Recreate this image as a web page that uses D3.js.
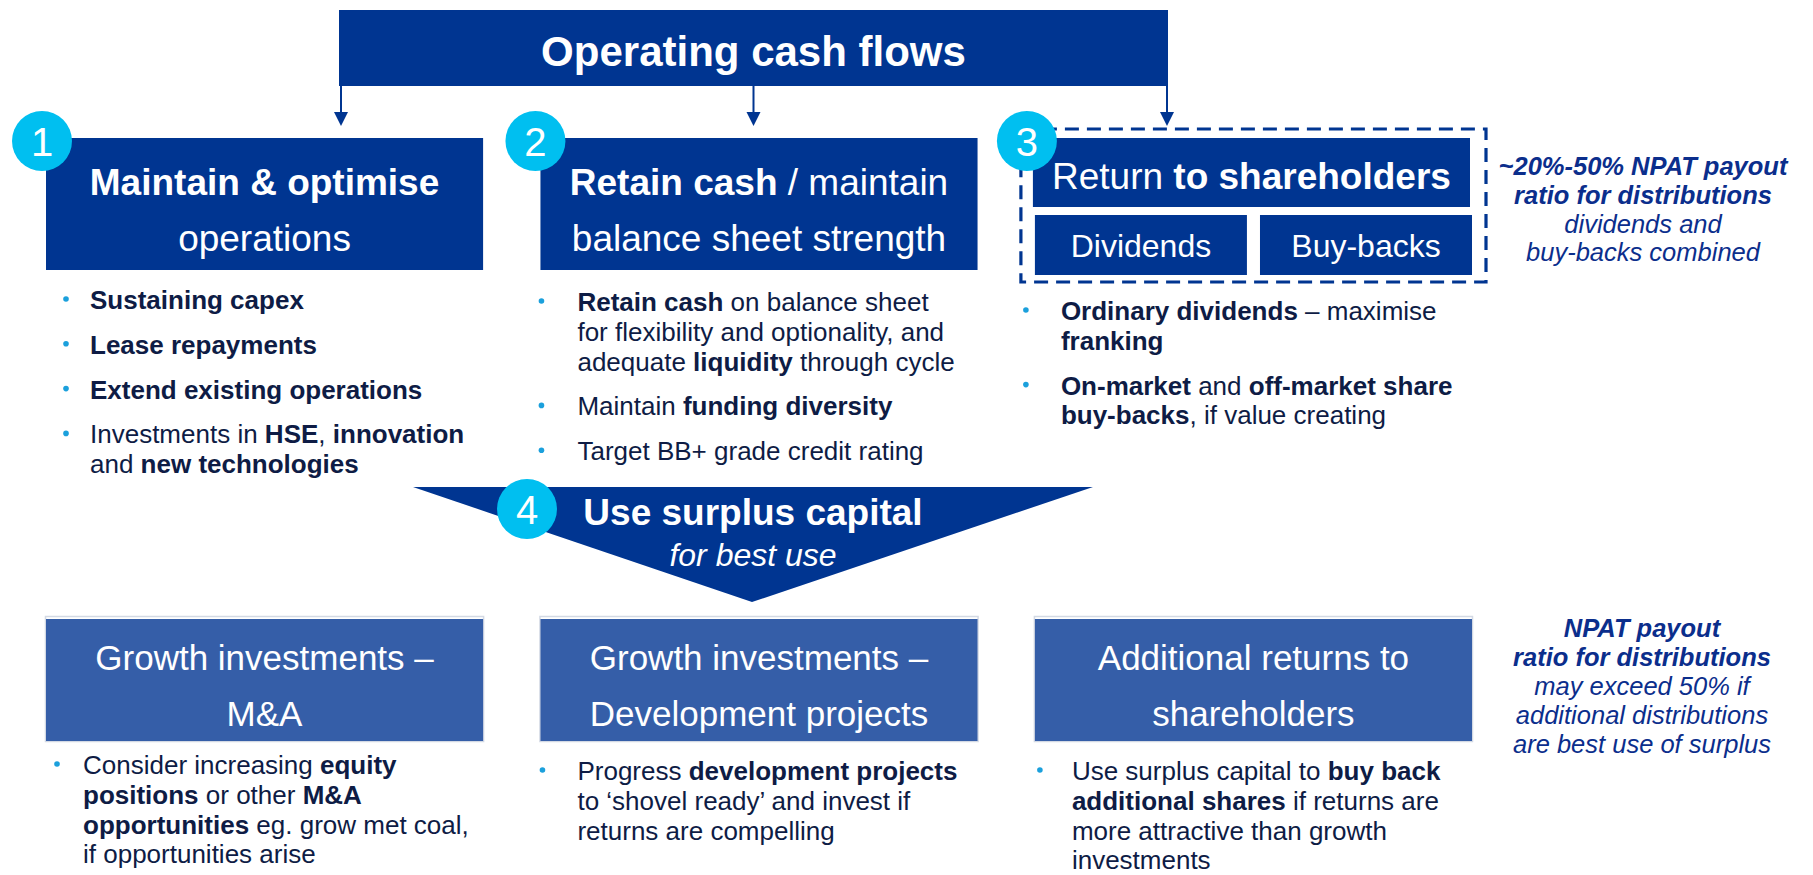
<!DOCTYPE html>
<html>
<head>
<meta charset="utf-8">
<script src="https://cdnjs.cloudflare.com/ajax/libs/d3/7.8.5/d3.min.js"></script>
<style>
  body { margin: 0; background: #fff; }
  svg { display: block; }
  text { font-family: "Liberation Sans", Arial, sans-serif; }
</style>
</head>
<body>
<script>
var width = 1813;
var height = 875;

// text content of the diagram (** marks bold, _ marks italic)
var headline = "Operating cash flows";
var stepNumbers = ["1", "2", "3", "4"];
var pillarTitles = [
  ["**Maintain & optimise**", "operations"],
  ["**Retain cash** / maintain", "balance sheet strength"],
  ["Return **to shareholders**"]
];
var returnTypes = ["Dividends", "Buy-backs"];
var pillarBullets = [
  [["**Sustaining capex**"], ["**Lease repayments**"], ["**Extend existing operations**"],
   ["Investments in **HSE**, **innovation**", "and **new technologies**"]],
  [["**Retain cash** on balance sheet", "for flexibility and optionality, and", "adequate **liquidity** through cycle"],
   ["Maintain **funding diversity**"], ["Target BB+ grade credit rating"]],
  [["**Ordinary dividends** – maximise", "**franking**"],
   ["**On-market** and **off-market share**", "**buy-backs**, if value creating"]]
];
var surplusTitle = ["**Use surplus capital**", "_for best use_"];
var surplusOptions = [
  ["Growth investments –", "M&A"],
  ["Growth investments –", "Development projects"],
  ["Additional returns to", "shareholders"]
];
var surplusBullets = [
  [["Consider increasing **equity**", "**positions** or other **M&A**", "**opportunities** eg. grow met coal,", "if opportunities arise"]],
  [["Progress **development projects**", "to ‘shovel ready’ and invest if", "returns are compelling"]],
  [["Use surplus capital to **buy back**", "**additional shares** if returns are", "more attractive than growth", "investments"]]
];
var payoutNote = ["**~20%-50% NPAT payout**", "**ratio for distributions**", "dividends and", "buy-backs combined"];
var surplusNote = ["**NPAT payout**", "**ratio for distributions**", "may exceed 50% if", "additional distributions", "are best use of surplus"];

// colours
var navy = "#003591";
var midBlue = "#355ea8";
var cyan = "#00bff0";
var bulletCol = "#1ba0dc";
var darkText = "#0e1c45";
var noteCol = "#0b2e8c";

var svg = d3.select("body").append("svg")
  .attr("width", width)
  .attr("height", height);

// three columns
var col = d3.scaleBand().domain([0, 1, 2]).range([46, 1472]).paddingInner(0.116);
var sub = d3.scaleBand().domain(returnTypes).range([col(2), col(2) + col.bandwidth()]).paddingInner(0.058);

// writes a line with ** bold / _ italic markup as tspans
function richLine(sel, str) {
  str.split("**").forEach(function (part, i) {
    var ts = sel.append("tspan");
    if (part.charAt(0) == "_" && part.charAt(part.length - 1) == "_") {
      part = part.slice(1, -1);
      ts.attr("font-style", "italic");
    }
    if (i % 2) ts.attr("font-weight", "bold");
    ts.text(part);
  });
}

function centredLines(lines, cx, y0, lineH, size, color, style) {
  lines.forEach(function (l, i) {
    var t = svg.append("text")
      .attr("x", cx)
      .attr("y", y0 + i * lineH)
      .attr("text-anchor", "middle")
      .attr("dominant-baseline", "central")
      .attr("font-size", size)
      .attr("fill", color)
      .attr("font-style", style || "normal");
    richLine(t, l);
  });
}

function bulletList(items, xDot, xText, y0) {
  var lineH = 29.8, gap = 15;
  var y = y0;
  items.forEach(function (item) {
    svg.append("circle").attr("cx", xDot).attr("cy", y - 1).attr("r", 2.8).attr("fill", bulletCol);
    item.forEach(function (l) {
      var t = svg.append("text")
        .attr("x", xText)
        .attr("y", y)
        .attr("dominant-baseline", "central")
        .attr("font-size", 26)
        .attr("fill", darkText);
      richLine(t, l);
      y += lineH;
    });
    y += gap;
  });
}

function stepCircle(label, cx, cy) {
  svg.append("circle").attr("cx", cx).attr("cy", cy).attr("r", 30).attr("fill", cyan);
  svg.append("text").attr("x", cx).attr("y", cy + 1)
    .attr("text-anchor", "middle").attr("dominant-baseline", "central")
    .attr("font-size", 40).attr("fill", "#fff").text(label);
}

// headline box
var topBox = { x0: 339, x1: 1168, y0: 10, y1: 86 };
svg.append("rect")
  .attr("x", topBox.x0).attr("y", topBox.y0)
  .attr("width", topBox.x1 - topBox.x0).attr("height", topBox.y1 - topBox.y0)
  .attr("fill", navy);
svg.append("text")
  .attr("x", (topBox.x0 + topBox.x1) / 2).attr("y", 51)
  .attr("text-anchor", "middle").attr("dominant-baseline", "central")
  .attr("font-size", 42).attr("font-weight", "bold").attr("fill", "#fff")
  .text(headline);

// arrows down to the three pillars
var arrowX = [topBox.x0 + 2, (topBox.x0 + topBox.x1) / 2, topBox.x1 - 1];
arrowX.forEach(function (x) {
  svg.append("line").attr("x1", x).attr("x2", x).attr("y1", topBox.y1).attr("y2", 114)
    .attr("stroke", navy).attr("stroke-width", 2);
  svg.append("path")
    .attr("d", "M" + (x - 7) + ",112L" + (x + 7) + ",112L" + x + ",126Z")
    .attr("fill", navy);
});

// pillar boxes 1 and 2
[0, 1].forEach(function (i) {
  svg.append("rect")
    .attr("x", col(i)).attr("y", 138)
    .attr("width", col.bandwidth()).attr("height", 132)
    .attr("fill", navy);
  centredLines(pillarTitles[i], col(i) + col.bandwidth() / 2, 182, 56, 37, "#fff");
});

// pillar 3: dashed group with return / dividends / buy-backs
svg.append("rect")
  .attr("x", col(2) - 14).attr("y", 129)
  .attr("width", col.bandwidth() + 28).attr("height", 153)
  .attr("fill", "none").attr("stroke", navy)
  .attr("stroke-width", 3.2).attr("stroke-dasharray", "14,8");
svg.append("rect")
  .attr("x", col(2) - 2).attr("y", 138)
  .attr("width", col.bandwidth()).attr("height", 69)
  .attr("fill", navy);
centredLines(pillarTitles[2], col(2) - 2 + col.bandwidth() / 2, 176, 0, 37, "#fff");
returnTypes.forEach(function (r) {
  svg.append("rect")
    .attr("x", sub(r)).attr("y", 215)
    .attr("width", sub.bandwidth()).attr("height", 60)
    .attr("fill", navy);
  centredLines([r], sub(r) + sub.bandwidth() / 2, 246, 0, 32, "#fff");
});

// bullets under pillars
var topBulletDx = [20, 1, -9];
var topTextDx = [44, 37, 26];
var topStartY = [300, 302, 311];
pillarBullets.forEach(function (items, i) {
  bulletList(items, col(i) + topBulletDx[i], col(i) + topTextDx[i], topStartY[i]);
});

// note on payout ratio
centredLines(payoutNote, 1643, 166, 28.8, 25.5, noteCol, "italic");

// surplus capital arrow
var tri = { x0: 413, x1: 1093, y0: 487, tipX: 752, tipY: 602 };
svg.append("path")
  .attr("d", "M" + tri.x0 + "," + tri.y0 + "L" + tri.x1 + "," + tri.y0 + "L" + tri.tipX + "," + tri.tipY + "Z")
  .attr("fill", navy);
centredLines(surplusTitle, 753, 512, 43, 37, "#fff");
d3.selectAll("text").filter(function () { return this.textContent == "for best use"; })
  .attr("font-size", 32);

// step numbers
stepCircle(stepNumbers[0], col(0) - 4, 141);
stepCircle(stepNumbers[1], col(1) - 5, 141);
stepCircle(stepNumbers[2], col(2) - 8, 141);
stepCircle(stepNumbers[3], 527, 509);

// surplus options
surplusOptions.forEach(function (o, i) {
  svg.append("rect")
    .attr("x", col(i) - 0.5).attr("y", 616.5)
    .attr("width", col.bandwidth() + 1).attr("height", 125)
    .attr("fill", "none").attr("stroke", "#d3d9e4").attr("stroke-width", 1.5);
  svg.append("rect")
    .attr("x", col(i)).attr("y", 619)
    .attr("width", col.bandwidth()).attr("height", 122)
    .attr("fill", midBlue);
  centredLines(o, col(i) + col.bandwidth() / 2, 657, 56, 35, "#fff");
});

var botBulletDx = [11, 2, 5];
var botStartY = [765, 771, 771];
surplusBullets.forEach(function (items, i) {
  bulletList(items, col(i) + botBulletDx[i], col(i) + 37, botStartY[i]);
});

centredLines(surplusNote, 1642, 628, 29, 25.5, noteCol, "italic");
</script>
</body>
</html>
